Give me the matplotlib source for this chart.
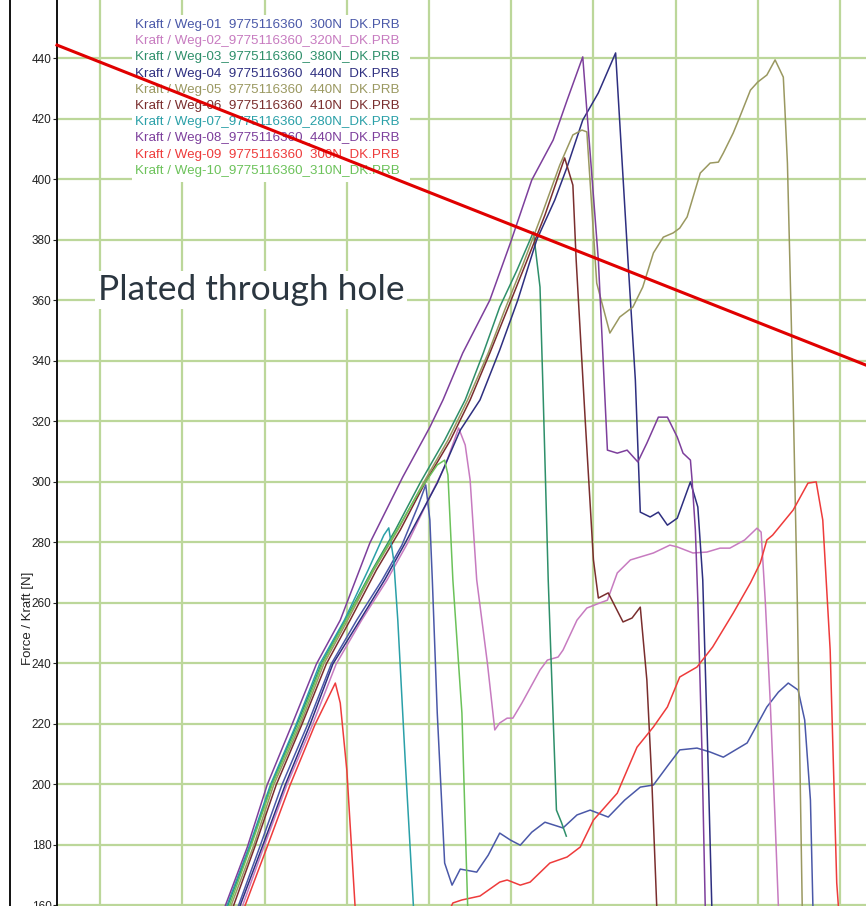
import matplotlib
matplotlib.use("Agg")
import matplotlib.pyplot as plt
from matplotlib.lines import Line2D
from matplotlib.patches import Rectangle

# ---- measured force / displacement curves (displacement in 1/100 mm, force in N) ----
labels = [
    "Kraft / Weg-01  9775116360  300N  DK.PRB",
    "Kraft / Weg-02_9775116360_320N_DK.PRB",
    "Kraft / Weg-03_9775116360_380N_DK.PRB",
    "Kraft / Weg-04  9775116360  440N  DK.PRB",
    "Kraft / Weg-05  9775116360  440N  DK.PRB",
    "Kraft / Weg-06  9775116360  410N  DK.PRB",
    "Kraft / Weg-07_9775116360_280N_DK.PRB",
    "Kraft / Weg-08_9775116360_440N_DK.PRB",
    "Kraft / Weg-09  9775116360  300N  DK.PRB",
    "Kraft / Weg-10_9775116360_310N_DK.PRB",
]
colors = ["#4a58a8", "#c77bc0", "#2e8f6a", "#2e2f80", "#9a9860",
          "#7a2e2e", "#2aa0a8", "#7d3f9c", "#ee3b3b", "#6cc25a"]

x01 = [26.8, 29.4, 32.1, 35.2, 38.1, 41.2, 44.3, 46.7, 48.7, 49.6, 50.1, 50.4, 51.0, 51.9, 52.8,
       53.8, 55.8, 57.2, 58.6, 59.9, 61.1, 62.5, 64.1, 66.3, 68.0, 69.6, 71.8, 73.8, 75.7, 77.3,
       79.1, 80.5, 82.6, 84.2, 85.8, 88.7, 91.1, 92.5, 93.7, 94.9, 95.7, 96.4, 96.7, 96.8]
y01 = [159.7, 179.2, 199.7, 219.5, 239.7, 254.2, 267.5, 279.0, 292.2, 298.9, 287.3, 267.5, 223.5, 173.9, 166.6,
       171.9, 170.9, 176.5, 183.8, 181.5, 179.8, 184.1, 187.4, 185.5, 189.8, 191.4, 189.1, 194.7, 199.0, 199.7,
       206.3, 211.3, 211.9, 210.6, 208.9, 213.6, 225.5, 230.4, 233.4, 231.1, 221.2, 194.7, 159.7, 145.1]

x02 = [27.3, 29.9, 32.7, 35.8, 38.7, 41.8, 44.9, 47.4, 49.9, 51.9, 53.6, 54.4, 55.0, 55.8, 57.1,
       58.0, 58.6, 59.5, 60.2, 61.3, 63.5, 64.4, 65.7, 66.3, 68.0, 69.2, 70.8, 71.7, 72.9, 74.5,
       77.3, 79.3, 80.2, 82.1, 83.8, 85.4, 86.6, 88.4, 89.9, 90.4, 90.9, 91.5, 92.1, 92.5, 92.6]
y02 = [159.7, 179.2, 199.7, 219.5, 239.7, 254.2, 267.5, 279.7, 293.9, 304.8, 317.7, 312.1, 300.5, 267.5, 240.0,
       217.9, 220.2, 221.8, 221.8, 226.8, 237.7, 241.0, 242.0, 244.3, 254.2, 258.2, 259.9, 260.8, 269.8, 274.1,
       276.4, 279.0, 278.4, 276.4, 276.7, 278.0, 278.0, 280.7, 284.6, 283.3, 260.8, 227.8, 188.1, 159.7, 145.1]

x03 = [25.5, 28.2, 30.8, 33.9, 36.9, 39.8, 43.1, 45.9, 48.9, 51.9, 54.4, 56.6, 58.6, 60.7, 62.7,
       63.5, 63.9, 64.5, 65.5, 66.1, 66.7]
y03 = [159.7, 179.2, 199.7, 219.5, 239.7, 254.2, 270.8, 284.0, 299.5, 313.7, 327.0, 342.5, 357.7, 369.9, 382.5,
       364.3, 327.0, 267.5, 191.4, 187.4, 182.8]

x04 = [27.0, 29.7, 32.5, 35.5, 38.3, 41.6, 44.6, 47.1, 51.0, 53.8, 56.2, 58.6, 60.8, 63.1, 65.3,
       66.8, 68.7, 70.6, 72.7, 74.2, 75.1, 75.7, 76.9, 77.9, 79.0, 80.2, 81.8, 82.7, 83.3, 83.9,
       84.4, 84.7]
y04 = [159.7, 179.2, 199.7, 219.5, 239.7, 254.2, 267.5, 279.7, 299.5, 317.0, 327.0, 343.5, 360.0, 379.9, 393.1,
       404.0, 419.5, 428.5, 441.7, 373.2, 333.6, 289.9, 288.3, 289.9, 285.6, 287.9, 299.9, 291.6, 267.5, 211.3,
       159.7, 145.1]

x05 = [25.9, 28.6, 31.1, 34.3, 37.2, 40.1, 43.3, 46.2, 49.3, 52.3, 54.7, 57.2, 59.2, 61.4, 63.7,
       65.9, 67.5, 68.6, 69.2, 70.4, 72.0, 73.2, 74.8, 76.0, 77.3, 78.5, 79.7, 80.5, 81.4, 83.0,
       84.2, 85.2, 85.8, 87.0, 87.8, 89.1, 90.0, 91.1, 92.1, 93.1, 93.3, 93.6, 93.9, 94.3, 94.8,
       95.4, 95.5]
y05 = [159.7, 179.2, 199.7, 219.5, 239.7, 254.2, 270.8, 284.0, 299.5, 313.7, 327.0, 342.5, 356.7, 371.6, 388.1,
       404.6, 414.6, 416.2, 415.6, 365.6, 349.1, 354.4, 357.7, 364.3, 375.6, 380.8, 382.2, 383.8, 387.5, 402.0,
       405.3, 405.6, 408.6, 415.2, 420.5, 429.4, 432.1, 434.4, 439.4, 433.7, 422.8, 405.3, 372.3, 327.0, 260.8,
       159.7, 145.1]

x06 = [26.2, 28.8, 31.4, 34.5, 37.5, 40.4, 43.6, 46.5, 49.5, 52.6, 55.0, 57.4, 59.5, 61.7, 64.1,
       66.5, 67.5, 67.9, 69.0, 70.0, 70.6, 71.8, 73.6, 74.7, 75.7, 76.5, 77.1, 77.7, 78.0]
y06 = [159.7, 179.2, 199.7, 219.5, 239.7, 254.2, 270.8, 284.0, 299.5, 313.7, 327.0, 342.5, 356.7, 371.6, 388.1,
       407.0, 398.0, 373.2, 320.3, 274.1, 261.5, 263.2, 253.6, 254.9, 258.5, 234.4, 201.3, 159.7, 145.1]

x07 = [25.4, 28.1, 30.7, 33.8, 36.7, 39.7, 42.6, 44.5, 45.1, 45.7, 46.2, 47.1, 48.1, 48.2]
y07 = [159.7, 179.2, 199.7, 219.5, 239.7, 254.2, 270.8, 282.3, 284.7, 274.1, 254.2, 207.9, 159.7, 145.1]

x08 = [25.2, 27.9, 30.3, 33.3, 36.3, 39.2, 42.8, 46.8, 50.1, 51.7, 54.1, 57.4, 59.9, 62.5, 65.1,
       66.8, 68.7, 70.6, 71.7, 72.9, 74.1, 75.4, 76.5, 77.9, 79.0, 80.2, 80.9, 81.8, 82.0, 82.4,
       82.7, 83.2, 83.6, 83.8]
y08 = [159.7, 179.2, 199.7, 219.5, 239.7, 254.2, 279.7, 301.5, 318.0, 327.0, 342.5, 360.0, 378.9, 399.7, 412.9,
       426.1, 440.4, 373.2, 310.4, 309.4, 310.4, 306.5, 312.7, 321.3, 321.3, 314.7, 309.4, 307.1, 300.5, 284.0,
       260.8, 211.3, 159.7, 145.1]

x09 = [27.6, 30.3, 33.1, 36.1, 38.6, 39.2, 40.0, 41.0, 42.8, 50.1, 52.9, 54.0, 56.2, 58.6, 59.5,
       61.1, 62.3, 64.7, 66.8, 68.4, 70.0, 72.9, 75.3, 77.3, 79.0, 80.5, 82.6, 84.5, 87.0, 89.1,
       90.3, 91.1, 91.8, 94.3, 96.1, 97.1, 97.9, 98.8, 99.6, 99.8, 99.9]
y09 = [159.7, 179.2, 199.7, 219.5, 233.4, 226.8, 204.6, 159.7, 145.1, 145.1, 160.7, 161.7, 163.0, 167.6, 168.3,
       166.6, 167.6, 173.9, 175.9, 179.2, 188.1, 197.0, 212.2, 218.9, 225.5, 235.4, 238.7, 245.3, 256.5, 266.5,
       273.1, 280.7, 282.3, 290.6, 299.5, 299.9, 287.3, 244.3, 167.3, 159.7, 145.1]

x10 = [25.7, 28.3, 30.9, 34.1, 37.0, 39.9, 43.2, 46.1, 48.9, 51.0, 51.9, 52.3, 52.9, 54.0, 54.7, 54.9]
y10 = [159.7, 179.2, 199.7, 219.5, 239.7, 254.2, 270.8, 284.0, 297.2, 305.5, 307.1, 302.2, 267.5, 223.5, 159.7, 145.1]

series_x = [x01, x02, x03, x04, x05, x06, x07, x08, x09, x10]
series_y = [y01, y02, y03, y04, y05, y06, y07, y08, y09, y10]

y_ticks = list(range(160, 460, 20))
x_grid = list(range(10, 110, 10))
x_range = (4.74, 103.16)
y_range = (159.7, 459.2)

# threshold line drawn across the plot
limit_force = (444.3, 338.5)
note = "Plated through hole"

# ---- figure ----
W, H, DPI = 866, 906, 100
fig = plt.figure(figsize=(W / DPI, H / DPI), dpi=DPI)
fig.patch.set_facecolor("white")
ax = fig.add_axes([57 / W, 0, (W - 57) / W, 1])
ax.set_xlim(*x_range)
ax.set_ylim(*y_range)

ax.set_xticks(x_grid)
ax.set_yticks(y_ticks)
ax.tick_params(axis="x", length=0, labelbottom=False)
ax.tick_params(axis="y", length=3, width=0.8, pad=1, labelsize=8.5,
               labelcolor="#222222", color="#222222")
for t in ax.get_yticklabels():
    t.set_family(["Liberation Sans", "DejaVu Sans"])
ax.grid(True, color="#bcd79a", lw=1.6)
ax.set_axisbelow(True)
for side in ("top", "right", "bottom"):
    ax.spines[side].set_visible(False)
ax.spines["left"].set_linewidth(1.4)
ax.spines["left"].set_color("#111111")

# outer frame line on the left
fig.add_artist(Line2D([10 / W, 10 / W], [0, 1], transform=fig.transFigure,
                      color="#111111", lw=1.4))

fig.text(28 / W, 1 - 618 / H, "Force / Kraft [N]", rotation=90, fontsize=9.5,
         ha="center", va="center", color="#222222",
         family=["Liberation Sans", "DejaVu Sans"])

for xs, ys, c in zip(series_x, series_y, colors):
    ax.plot(xs, ys, color=c, lw=1.1, zorder=3)

# legend block: coloured names on a white panel
ax.add_patch(Rectangle((132 / W, 1 - 182 / H), (410 - 132) / W, (182 - 15) / H,
                       transform=fig.transFigure, facecolor="white",
                       edgecolor="none", zorder=4))
for i, (lab, c) in enumerate(zip(labels, colors)):
    ax.text(135 / W, 1 - (25 + 16.2 * i) / H, lab, transform=fig.transFigure,
            fontsize=9.6, color=c, ha="left", va="center", zorder=5,
            family=["Liberation Sans", "DejaVu Sans"])

ax.text(98 / W, 1 - 290 / H, note, transform=fig.transFigure, fontsize=25.5,
        color="#2b3640", ha="left", va="center", zorder=5,
        family=["Lato", "DejaVu Sans"],
        bbox=dict(facecolor="white", edgecolor="none", pad=2))

ax.plot(x_range, limit_force, color="#e00000", lw=2.2, zorder=6, clip_on=False)

fig.savefig("out.png", dpi=DPI, facecolor="white")
